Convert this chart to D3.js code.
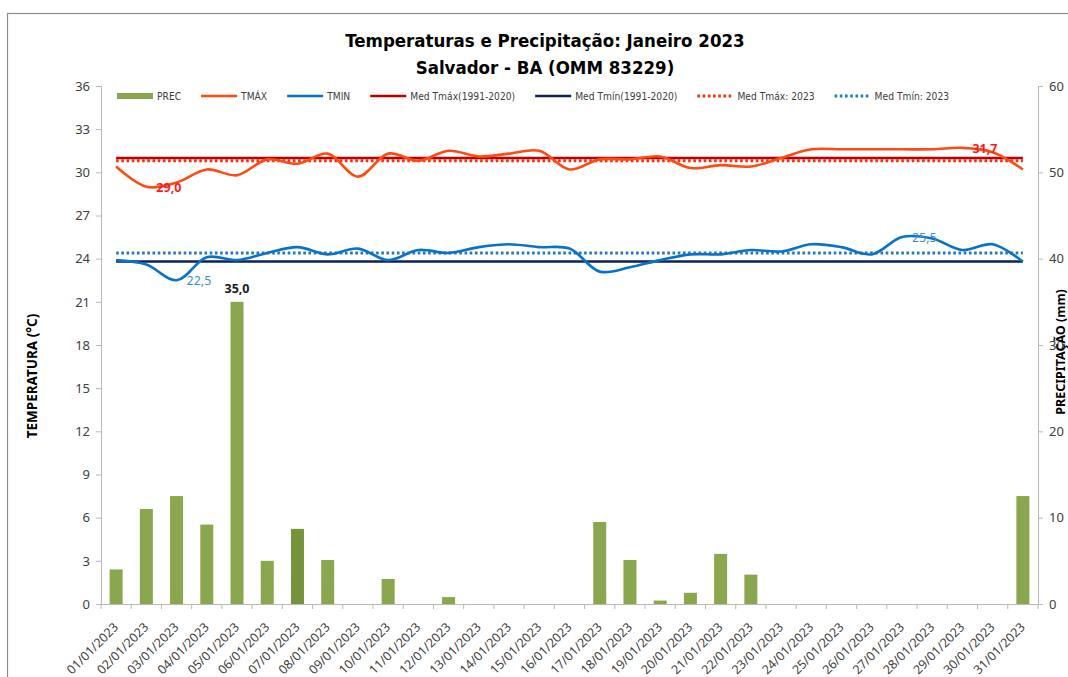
<!DOCTYPE html>
<html>
<head>
<meta charset="utf-8">
<script src="https://cdn.jsdelivr.net/npm/d3@7"></script>
<style>
  body { margin: 0; background: #fff; }
  svg { display: block; }
  .tick text { fill: #404040; }
</style>
</head>
<body>
<div id="chart"></div>
<script>
// Chart data (Salvador - BA, Janeiro 2023)
var dias = d3.range(1, 32).map(d => (d < 10 ? "0" + d : "" + d) + "/01/2023");
var prec = [4.0, 11.0, 12.5, 9.2, 35.0, 5.0, 8.7, 5.1, 0, 2.9, 0, 0.8, 0, 0, 0, 0,
            9.5, 5.1, 0.4, 1.3, 5.8, 3.4, 0, 0, 0, 0, 0, 0, 0, 0, 12.5];
var tmax = [30.4, 29.0, 29.3, 30.2, 29.8, 30.9, 30.6, 31.3, 29.7, 31.3, 30.8, 31.5, 31.1, 31.3, 31.5, 30.2,
            30.9, 30.9, 31.1, 30.3, 30.5, 30.4, 31.0, 31.6, 31.6, 31.6, 31.6, 31.6, 31.7, 31.4, 30.2];
var tmin = [23.9, 23.6, 22.5, 24.1, 23.9, 24.4, 24.8, 24.3, 24.7, 23.9, 24.6, 24.4, 24.8, 25.0, 24.8, 24.7,
            23.1, 23.4, 23.9, 24.3, 24.3, 24.6, 24.5, 25.0, 24.8, 24.3, 25.5, 25.4, 24.6, 25.0, 23.8];
var medTmaxNormal = 31.0;
var medTminNormal = 23.8;
var medTmax2023 = 30.8;
var medTmin2023 = 24.4;
var tempTicks = d3.range(0, 37, 3);
var precTicks = d3.range(0, 61, 10);
var legendNames = ["PREC", "TMÁX", "TMIN", "Med Tmáx(1991-2020)", "Med Tmín(1991-2020)", "Med Tmáx: 2023", "Med Tmín: 2023"];

// Chart params
var svgWidth = 1068;
var svgHeight = 677;
var margin = { top: 86, right: 30, bottom: 73, left: 101 };
var width = 1038 - margin.left;
var height = 604 - margin.top;

var svg = d3.select("#chart")
    .append("svg")
    .attr("width", svgWidth)
    .attr("height", svgHeight);

// outer frame
svg.append("rect")
    .attr("x", 7.5).attr("y", 13.5)
    .attr("width", 1100).attr("height", 700)
    .attr("fill", "none")
    .attr("stroke", "#8c8c8c")
    .attr("stroke-width", 1.2);

var chartGroup = svg.append("g")
    .attr("transform", `translate(${margin.left}, ${margin.top})`);

// Scales
var xBand = d3.scaleBand().domain(dias).range([0, width]);
var yTemp = d3.scaleLinear().domain([0, 36]).range([height, 0]);
var yPrec = d3.scaleLinear().domain([0, 60]).range([height, 0]);
var cx = d => xBand(d) + xBand.bandwidth() / 2;

// Axes
var axisColor = "#b8b8b8";
var leftAxis = d3.axisLeft(yTemp).tickValues(tempTicks).tickSize(5).tickPadding(6);
var rightAxis = d3.axisRight(yPrec).tickValues(precTicks).tickSize(5).tickPadding(6);
var bottomAxis = d3.axisBottom(xBand).tickSize(0).tickFormat("");

var gl = chartGroup.append("g").call(leftAxis);
var gr = chartGroup.append("g").attr("transform", `translate(${width}, 0)`).call(rightAxis);
[gl, gr].forEach(function(g) {
    g.select(".domain").attr("stroke", axisColor);
    g.selectAll(".tick line").attr("stroke", axisColor);
    g.selectAll(".tick text")
        .style("font-family", "'Noto Sans', 'Open Sans', sans-serif")
        .style("font-size", "13px")
        .attr("fill", "#404040");
});

var gb = chartGroup.append("g").attr("transform", `translate(0, ${height})`).call(bottomAxis);
gb.select(".domain").attr("stroke", axisColor);
// category boundary ticks
gb.selectAll(".bound")
    .data(d3.range(0, dias.length + 1))
    .enter()
    .append("line")
    .attr("x1", i => i * xBand.step())
    .attr("x2", i => i * xBand.step())
    .attr("y1", 0).attr("y2", 5)
    .attr("stroke", axisColor);
gb.selectAll(".xlab")
    .data(dias)
    .enter()
    .append("text")
    .attr("transform", d => `translate(${cx(d) + 3}, 24) rotate(-45)`)
    .attr("text-anchor", "end")
    .style("font-family", "'Noto Sans', 'Open Sans', sans-serif")
    .style("font-size", "12.5px")
    .attr("fill", "#404040")
    .text(d => d);

// Bars (precipitation)
var barW = xBand.bandwidth() * 0.43;
chartGroup.selectAll(".bar")
    .data(dias)
    .enter()
    .append("rect")
    .attr("x", d => cx(d) - barW / 2)
    .attr("y", (d, i) => yPrec(prec[i]))
    .attr("width", barW)
    .attr("height", (d, i) => height - yPrec(prec[i]))
    .attr("fill", (d, i) => i === 6 ? "#77933c" : "#8aa64e");

// Reference lines
function hline(value, color, dash, w) {
    chartGroup.append("line")
        .attr("x1", cx(dias[0])).attr("x2", cx(dias[dias.length - 1]))
        .attr("y1", yTemp(value)).attr("y2", yTemp(value))
        .attr("stroke", color)
        .attr("stroke-width", w)
        .attr("stroke-dasharray", dash);
}
hline(medTmaxNormal, "#c00000", null, 2.6);
hline(medTminNormal, "#0d1f5c", null, 2.6);
hline(medTmax2023, "#ff2a0a", "2.6,2.6", 3);
hline(medTmin2023, "#1f78c8", "2.6,2.6", 3);

// Temperature curves
var lineT = d3.line()
    .x((d, i) => cx(dias[i]))
    .y(d => yTemp(d))
    .curve(d3.curveCatmullRom.alpha(0.5));

chartGroup.append("path")
    .datum(tmax)
    .attr("d", lineT)
    .attr("fill", "none")
    .attr("stroke", "#ff4a14")
    .attr("stroke-width", 2.6);

chartGroup.append("path")
    .datum(tmin)
    .attr("d", lineT)
    .attr("fill", "none")
    .attr("stroke", "#0a72c6")
    .attr("stroke-width", 2.6);

// Data labels
var labelFont = "'Noto Sans', 'Open Sans', sans-serif";
function dataLabel(i, value, color, weight) {
    chartGroup.append("text")
        .attr("x", cx(dias[i]) + 10)
        .attr("y", yTemp(value) + 5)
        .style("font-family", labelFont)
        .style("font-size", "12.5px")
        .style("font-weight", weight)
        .attr("fill", color)
        .text(d3.format(".1f")(value).replace(".", ","));
}
dataLabel(tmax.indexOf(d3.min(tmax)), d3.min(tmax), "#ff1a1a", "bold");
dataLabel(tmax.indexOf(d3.max(tmax)), d3.max(tmax), "#ff1a1a", "bold");
dataLabel(tmin.indexOf(d3.min(tmin)), d3.min(tmin), "#3d8fd8", "normal");
dataLabel(tmin.indexOf(d3.max(tmin)), d3.max(tmin), "#3d8fd8", "normal");

var pMaxIdx = prec.indexOf(d3.max(prec));
chartGroup.append("text")
    .attr("x", cx(dias[pMaxIdx]))
    .attr("y", yPrec(prec[pMaxIdx]) - 9)
    .attr("text-anchor", "middle")
    .style("font-family", labelFont)
    .style("font-size", "12.5px")
    .style("font-weight", "bold")
    .attr("fill", "#1a1a1a")
    .text(d3.format(".1f")(prec[pMaxIdx]).replace(".", ","));

// Title
var titleFont = "'Liberation Sans Narrow', 'DejaVu Sans Condensed', 'Noto Sans', sans-serif";
svg.append("text")
    .attr("x", 545).attr("y", 47)
    .attr("text-anchor", "middle")
    .style("font-family", titleFont)
    .style("font-size", "18.5px")
    .style("font-weight", "bold")
    .attr("fill", "#000")
    .text("Temperaturas e Precipitação: Janeiro 2023");
svg.append("text")
    .attr("x", 545).attr("y", 74)
    .attr("text-anchor", "middle")
    .style("font-family", titleFont)
    .style("font-size", "18.5px")
    .style("font-weight", "bold")
    .attr("fill", "#000")
    .text("Salvador - BA (OMM 83229)");

// Axis titles
svg.append("text")
    .attr("transform", "translate(37, 376) rotate(-90)")
    .attr("text-anchor", "middle")
    .style("font-family", labelFont)
    .style("font-size", "13.5px")
    .style("font-weight", "bold")
    .attr("fill", "#000")
    .text("TEMPERATURA  (°C)");
svg.append("text")
    .attr("transform", "translate(1065, 352) rotate(-90)")
    .attr("text-anchor", "middle")
    .style("font-family", labelFont)
    .style("font-size", "12.5px")
    .style("font-weight", "bold")
    .attr("fill", "#000")
    .text("PRECIPITAÇÃO (mm)");

// Legend
var legendStyles = [
    { color: "#8aa64e", type: "bar" },
    { color: "#ff4a14", type: "line" },
    { color: "#0a72c6", type: "line" },
    { color: "#c00000", type: "line" },
    { color: "#0d1f5c", type: "line" },
    { color: "#ff2a0a", type: "dot" },
    { color: "#1f78c8", type: "dot" }
];
var legend = svg.append("g").attr("transform", "translate(117, 96)");
var lx = 0;
legendNames.forEach(function(name, i) {
    var st = legendStyles[i];
    if (st.type === "bar") {
        legend.append("rect").attr("x", lx).attr("y", -3).attr("width", 36).attr("height", 6).attr("fill", st.color);
    } else {
        legend.append("line")
            .attr("x1", lx).attr("x2", lx + 36)
            .attr("y1", 0).attr("y2", 0)
            .attr("stroke", st.color)
            .attr("stroke-width", st.type === "dot" ? 3 : 2.6)
            .attr("stroke-dasharray", st.type === "dot" ? "2.6,2.6" : null);
    }
    var t = legend.append("text")
        .attr("x", lx + 40).attr("y", 4)
        .style("font-family", titleFont)
        .style("font-size", "10.2px")
        .attr("fill", "#404040")
        .text(name);
    lx += 40 + t.node().getComputedTextLength() + 20;
});
</script>
</body>
</html>
